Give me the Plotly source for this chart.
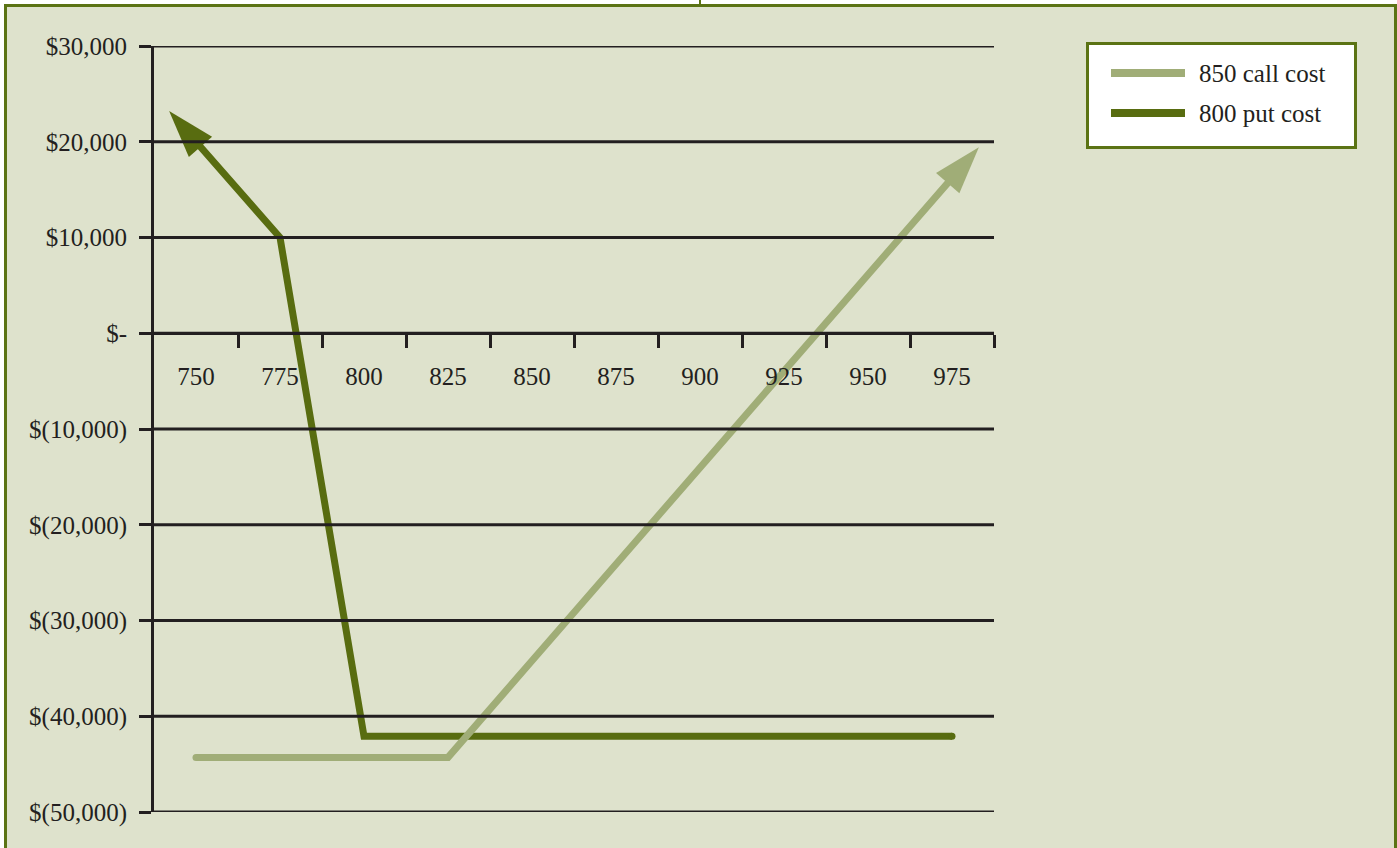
import plotly.graph_objects as go

# ---- data ----
strikes = [750, 775, 800, 825, 850, 875, 900, 925, 950, 975]
call_cost = [-44300, -44300, -44300, -44300, -34200, -24100, -14000, -3900, 6100, 16200]
put_cost = [20000, 10000, -42100, -42100, -42100, -42100, -42100, -42100, -42100, -42100]
series_names = ["850 call cost", "800 put cost"]
y_ticks = [30000, 20000, 10000, 0, -10000, -20000, -30000, -40000, -50000]
y_tick_labels = ["$30,000", "$20,000", "$10,000", "$-", "$(10,000)", "$(20,000)",
                 "$(30,000)", "$(40,000)", "$(50,000)"]
x_tick_labels = [str(s) for s in strikes]

# ---- style ----
W, H = 1397, 848
ML, MR, MT, MB = 154, 403, 46, 36
BG = "#dee2cc"
FRAME = "#5b7314"
PUT_C = "#586c10"
CALL_C = "#a0ad77"
INK = "#231f20"
FONT = "Liberation Serif"
FS = 25
LW = 7
ARROW_EXT = 0.32

step = strikes[1] - strikes[0]
x_range = [strikes[0] - step / 2, strikes[-1] + step / 2]
y_range = [min(y_ticks), max(y_ticks)]
pw, ph = W - ML - MR, H - MT - MB


def px_x(px):
    return (px - ML) / pw


def px_y(py):
    return (H - MB - py) / ph


def arrow_tip(xs, ys, at_start):
    if at_start:
        x0, y0, x1, y1 = xs[0], ys[0], xs[1], ys[1]
    else:
        x0, y0, x1, y1 = xs[-1], ys[-1], xs[-2], ys[-2]
    return [x0, x0 + ARROW_EXT * (x0 - x1)], [y0, y0 + ARROW_EXT * (y0 - y1)]


fig = go.Figure()

# put line (drawn first, call on top)
fig.add_trace(go.Scatter(x=strikes, y=put_cost, mode="lines", name=series_names[1],
                         line=dict(color=PUT_C, width=LW), showlegend=False))
ax_, ay_ = arrow_tip(strikes, put_cost, True)
fig.add_trace(go.Scatter(x=ax_, y=ay_, mode="markers", showlegend=False, hoverinfo="skip",
                         marker=dict(symbol=["circle", "arrow"], size=[0, 50], color=PUT_C,
                                     opacity=1, angleref="previous", line=dict(width=0))))
# rounded line end
fig.add_trace(go.Scatter(x=[strikes[-1]], y=[put_cost[-1]], mode="markers", showlegend=False,
                         hoverinfo="skip",
                         marker=dict(symbol="circle", size=LW, color=PUT_C, opacity=1,
                                     line=dict(width=0))))

fig.add_trace(go.Scatter(x=strikes, y=call_cost, mode="lines", name=series_names[0],
                         line=dict(color=CALL_C, width=LW), showlegend=False))
ax_, ay_ = arrow_tip(strikes, call_cost, False)
fig.add_trace(go.Scatter(x=ax_, y=ay_, mode="markers", showlegend=False, hoverinfo="skip",
                         marker=dict(symbol=["circle", "arrow"], size=[0, 50], color=CALL_C,
                                     opacity=1, angleref="previous", line=dict(width=0))))
fig.add_trace(go.Scatter(x=[strikes[0]], y=[call_cost[0]], mode="markers", showlegend=False,
                         hoverinfo="skip",
                         marker=dict(symbol="circle", size=LW, color=CALL_C, opacity=1,
                                     line=dict(width=0))))

shapes = []
# outer frame
shapes.append(dict(type="rect", xref="paper", yref="paper", layer="below",
                   x0=px_x(5.5), x1=px_x(1395.5), y0=px_y(1000), y1=px_y(5.5),
                   line=dict(color=FRAME, width=3), fillcolor=BG))
shapes.append(dict(type="line", xref="paper", yref="paper", layer="below",
                   x0=px_x(700), x1=px_x(700), y0=px_y(0), y1=px_y(5),
                   line=dict(color=FRAME, width=2)))
# horizontal gridlines on top of the series
for v in y_ticks:
    shapes.append(dict(type="line", xref="paper", yref="y", layer="above",
                       x0=0, x1=1, y0=v, y1=v, line=dict(color=INK, width=3)))

# custom legend
shapes.append(dict(type="rect", xref="paper", yref="paper", layer="above",
                   x0=px_x(1087.5), x1=px_x(1355.5), y0=px_y(147.5), y1=px_y(43.5),
                   line=dict(color=FRAME, width=3), fillcolor="white"))
annotations = []
for i, (nm, col) in enumerate(zip(series_names, [CALL_C, PUT_C])):
    yy = 73 + 40 * i
    shapes.append(dict(type="line", xref="paper", yref="paper", layer="above",
                       x0=px_x(1111), x1=px_x(1185), y0=px_y(yy), y1=px_y(yy),
                       line=dict(color=col, width=8)))
    annotations.append(dict(xref="paper", yref="paper", x=px_x(1197), y=px_y(yy),
                            text=nm, showarrow=False, xanchor="left", yanchor="middle",
                            font=dict(family=FONT, size=FS, color=INK)))

fig.update_layout(
    width=W, height=H,
    margin=dict(l=ML, r=MR, t=MT, b=MB, pad=0),
    paper_bgcolor="white",
    plot_bgcolor="rgba(0,0,0,0)",
    font=dict(family=FONT, size=FS, color=INK),
    showlegend=False,
    shapes=shapes,
    annotations=annotations,
    xaxis=dict(
        range=x_range, anchor="free",
        position=(0 - y_range[0]) / (y_range[1] - y_range[0]),
        tickmode="array", tickvals=strikes, ticktext=x_tick_labels,
        ticks="outside", ticklen=13, tickcolor="rgba(0,0,0,0)",
        ticklabelstandoff=7,
        minor=dict(tickmode="array",
                   tickvals=[s + step / 2 for s in strikes],
                   ticks="outside", ticklen=13, tickwidth=2.5, tickcolor=INK, showgrid=False),
        showgrid=False, zeroline=False,
        showline=True, linecolor=INK, linewidth=3, layer="above traces",
        tickfont=dict(family=FONT, size=FS, color=INK),
        fixedrange=True,
    ),
    yaxis=dict(
        range=y_range, tickmode="array", tickvals=y_ticks, ticktext=y_tick_labels,
        ticks="outside", ticklen=12, tickwidth=3, tickcolor=INK,
        ticklabelstandoff=7,
        showgrid=False, zeroline=False,
        showline=True, linecolor=INK, linewidth=3, layer="above traces",
        tickfont=dict(family=FONT, size=FS, color=INK),
        fixedrange=True,
    ),
)

fig.write_html("out.html", config={"displayModeBar": False})
